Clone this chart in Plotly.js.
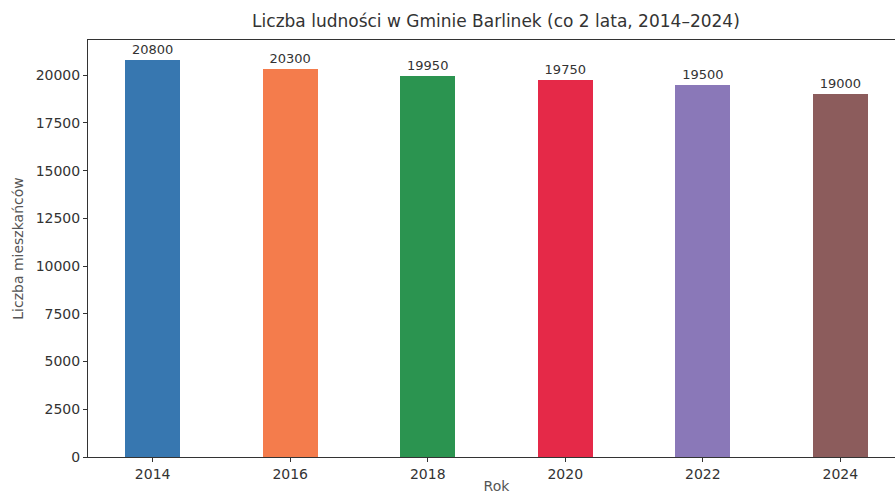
<!DOCTYPE html>
<html>
<head>
<meta charset="utf-8">
<script src="https://cdn.plot.ly/plotly-3.0.1.min.js"></script>
<style>html,body{margin:0;padding:0;overflow:hidden;background:#fff;}</style>
</head>
<body>
<div id="chart"></div>
<script>
const years = [2014, 2016, 2018, 2020, 2022, 2024];
const population = [20800, 20300, 19950, 19750, 19500, 19000];
const yTicks = [0, 2500, 5000, 7500, 10000, 12500, 15000, 17500, 20000];
const barColors = ['#3777b0', '#f47c4c', '#2b9450', '#e52948', '#8a78b8', '#8c5c5c'];

const trace = {
  type: 'bar',
  x: years,
  y: population,
  width: 0.8,
  marker: {color: barColors, line: {width: 0}},
  text: population.map(String),
  textposition: 'outside',
  cliponaxis: false,
  textfont: {family: 'DejaVu Sans', size: 13, color: '#333'},
  hoverinfo: 'none'
};

const layout = {
  width: 910,
  height: 494,
  margin: {l: 88, r: 5, t: 40, b: 37},
  paper_bgcolor: '#fff',
  plot_bgcolor: '#fff',
  font: {family: 'DejaVu Sans', color: '#333'},
  showlegend: false,
  bargap: 0,
  title: {
    text: 'Liczba ludności w Gminie Barlinek (co 2 lata, 2014–2024)',
    font: {family: 'DejaVu Sans', size: 17, color: '#333'},
    x: 0.545, xanchor: 'center', y: 0.957, yanchor: 'middle'
  },
  xaxis: {
    range: [2013.06, 2024.94],
    tickvals: years,
    ticktext: years.map(String),
    ticks: 'outside', ticklen: 4, tickcolor: '#333',
    showline: true, mirror: true, linecolor: '#333', linewidth: 1,
    showgrid: false, zeroline: false,
    tickfont: {family: 'DejaVu Sans', size: 14, color: '#333'},
    title: {text: 'Rok', font: {family: 'DejaVu Sans', size: 14, color: '#555'}, standoff: 6}
  },
  yaxis: {
    range: [0, 21840],
    tickvals: yTicks,
    ticktext: yTicks.map(String),
    ticks: 'outside', ticklen: 4, tickcolor: '#333',
    showline: true, mirror: true, linecolor: '#333', linewidth: 1,
    showgrid: false, zeroline: false,
    tickfont: {family: 'DejaVu Sans', size: 14, color: '#333'},
    title: {text: 'Liczba mieszkańców', font: {family: 'DejaVu Sans', size: 14, color: '#555'}, standoff: 8}
  }
};

Plotly.newPlot('chart', [trace], layout, {displayModeBar: false, staticPlot: true});
</script>
</body>
</html>
